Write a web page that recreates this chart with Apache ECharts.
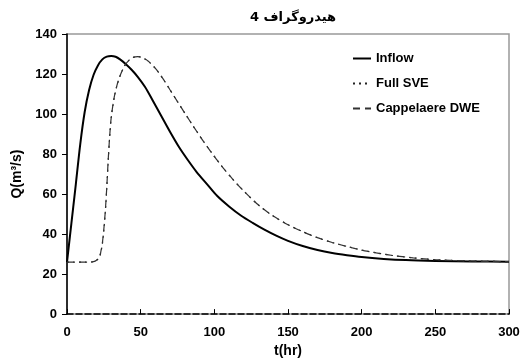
<!DOCTYPE html>
<html>
<head>
<meta charset="utf-8">
<script src="https://cdn.jsdelivr.net/npm/echarts@6/dist/echarts.min.js"></script>
<style>
  html, body { margin: 0; padding: 0; background: #fff; }
  #chart { width: 529px; height: 363px; }
</style>
</head>
<body>
<div id="chart"></div>
<script>
// Inflow hydrograph
var inflowT = [0, 2, 4, 6, 9, 12, 15, 18, 21, 24, 27, 30, 33, 36, 40, 44, 48, 53, 58, 64, 70, 76, 82, 88, 95, 102, 110, 118, 126, 134, 142, 150, 160, 170, 180, 190, 200, 215, 230, 250, 275, 300];
var inflowQ = [26, 39, 52, 65, 85, 101, 112, 119.5, 124.3, 127.3, 128.7, 129, 128.6, 127.3, 124.9, 122, 118.6, 113.5, 107, 99, 91, 83.5, 77, 71, 65, 59, 53.8, 49.3, 45.6, 42.2, 39.2, 36.6, 34, 32, 30.5, 29.4, 28.5, 27.6, 27, 26.6, 26.3, 26.2];

// routed outflow
var routedT = [0, 5, 10, 15, 18, 20, 22, 23, 24, 25, 26, 27, 28, 29, 30, 32, 34, 36, 39, 42, 45, 48, 51, 55, 60, 65, 70, 75, 80, 86, 92, 98, 105, 112, 120, 130, 140, 150, 160, 170, 180, 190, 200, 210, 220, 235, 250, 270, 300];
var sveQ = [26, 26, 26, 26, 26.2, 26.8, 28.5, 31, 35, 42, 51, 63, 77, 89, 98, 108, 114.5, 119, 124, 126.8, 128.3, 128.7, 128.2, 126.5, 122.8, 117.8, 112, 106.2, 100.4, 93.6, 87, 80.8, 74, 67.8, 61.5, 54.5, 49, 44.7, 41.2, 38.2, 35.8, 33.8, 32, 30.6, 29.4, 28.1, 27.2, 26.6, 26.2];
var dweQ = [26, 26, 26, 26, 26.2, 26.9, 28.7, 31.3, 35.5, 42.5, 51.5, 63.5, 77.5, 89.3, 98.2, 108.2, 114.6, 119.1, 124, 126.8, 128.3, 128.7, 128.2, 126.5, 122.8, 117.8, 112, 106.2, 100.4, 93.6, 87, 80.8, 74, 67.8, 61.5, 54.5, 49, 44.7, 41.2, 38.2, 35.8, 33.8, 32, 30.6, 29.4, 28.1, 27.2, 26.6, 26.2];

var xTicks = [0, 50, 100, 150, 200, 250, 300];
var yTicks = [0, 20, 40, 60, 80, 100, 120, 140];

function pairs(t, q) {
  return t.map(function (v, i) { return [v, q[i]]; });
}

var myChart = echarts.init(document.getElementById('chart'));
var lbl = { color: '#000', fontWeight: 'bold', fontSize: 13, fontFamily: 'Liberation Sans' };

myChart.setOption({
  animation: false,
  title: {
    text: 'هیدروگراف 4',
    left: 288, top: 6, textAlign: 'center',
    textStyle: { fontFamily: 'DejaVu Sans', fontWeight: 'bold', fontSize: 13, color: '#000' }
  },
  grid: {
    left: 67, right: 20, top: 34, bottom: 43,
    show: true, borderColor: '#999', borderWidth: 1.5, backgroundColor: '#fff'
  },
  legend: {
    orient: 'vertical',
    left: 347, top: 47,
    itemWidth: 18, itemHeight: 12, itemGap: 12,
    textStyle: lbl,
    itemStyle: { opacity: 0 },
    data: ['Inflow', 'Full SVE', 'Cappelaere DWE']
  },
  xAxis: {
    type: 'value',
    min: xTicks[0], max: xTicks[xTicks.length - 1], interval: 50,
    name: 't(hr)', nameLocation: 'middle', nameGap: 22,
    nameTextStyle: { color: '#000', fontWeight: 'bold', fontSize: 14, fontFamily: 'Liberation Sans' },
    axisLine: { show: true, onZero: false, lineStyle: { color: '#000', width: 1.5, type: 'dashed' } },
    axisTick: { show: true, inside: true, length: 5, lineStyle: { color: '#000' } },
    axisLabel: Object.assign({ margin: 12 }, lbl),
    splitLine: { show: false }
  },
  yAxis: {
    type: 'value',
    min: yTicks[0], max: yTicks[yTicks.length - 1], interval: 20,
    name: 'Q(m³/s)', nameLocation: 'middle', nameGap: 42, nameRotate: 90,
    nameTextStyle: { color: '#000', fontWeight: 'bold', fontSize: 14, fontFamily: 'Liberation Sans' },
    axisLine: { show: true, lineStyle: { color: '#000', width: 1.5 } },
    axisTick: { show: true, length: 5, lineStyle: { color: '#000' } },
    axisLabel: Object.assign({ margin: 10 }, lbl),
    splitLine: { show: false }
  },
  series: [
    {
      name: 'Inflow', type: 'line', symbol: 'none',
      smooth: 0.3,
      lineStyle: { color: '#000', width: 2, type: 'solid' },
      itemStyle: { color: '#000' },
      data: pairs(inflowT, inflowQ)
    },
    {
      name: 'Full SVE', type: 'line', symbol: 'none',
      smooth: 0.3,
      lineStyle: { color: '#222', width: 1.2, type: [2, 4] },
      itemStyle: { color: '#222' },
      data: pairs(routedT, sveQ)
    },
    {
      name: 'Cappelaere DWE', type: 'line', symbol: 'none',
      smooth: 0.3,
      lineStyle: { color: '#333', width: 1.2, type: [7, 5] },
      itemStyle: { color: '#333' },
      data: pairs(routedT, dweQ)
    }
  ]
});
</script>
</body>
</html>
